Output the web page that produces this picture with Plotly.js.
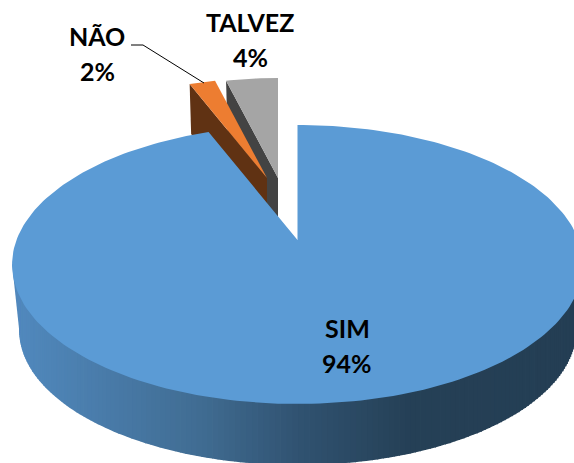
<!DOCTYPE html>
<html>
<head>
<meta charset="utf-8">
<script src="https://cdn.plot.ly/plotly-3.0.1.min.js"></script>
<style>html,body{margin:0;padding:0;background:#fff}</style>
</head>
<body>
<div id="chart" style="width:574px;height:463px"></div>
<script>
const categories = ['SIM', 'NÃO', 'TALVEZ'];
const values = [94, 2, 4];
const topColors = ['#5B9BD5', '#ED7D31', '#A5A5A5'];
const sideColors = ['#4A7FAF', '#603213', '#434343'];
const labelX = [347, 97, 250];
const labelY = [328, 36, 22];
const labelGap = 34.5;
const leaderX = [131, 143, 204];
const leaderY = [45, 45, 83];
const gradientStops = [[15, [81, 137, 190]], [200, [64, 108, 146]], [300, [48, 82, 112]], [410, [37, 64, 86]], [574, [36, 62, 84]]];

// Tilted-disc projection of the pie plane
const cx = 297.5, cy = 240, k = 0.1756, a = 281, b = 135.2;
const depthScaleX = 0.975, depthScaleY = 0.965, depthOffset = 66.8;
const explodeScale = 0.87;
const sliceTips = [[cx, cy], [267, 178], [278, 178]];
const sliceDepth = [0, 50, 50];

const total = values.reduce((s, v) => s + v, 0);
let acc = 0;
const bounds = values.map(v => { const s = acc; acc += v / total * 360; return [s, acc]; });

function proj(deg) {
  const t = deg * Math.PI / 180, u = Math.sin(t), v = Math.cos(t), w = 1 + k * v;
  return [a * u / w, -b * v / w];
}
function arc(s, e, n) {
  const out = [];
  for (let i = 0; i <= n; i++) out.push(s + (e - s) * i / n);
  return out;
}
function poly(pts, color) {
  return {
    type: 'scatter', mode: 'lines', x: pts.map(p => p[0]), y: pts.map(p => p[1]),
    fill: 'toself', fillcolor: color, line: { color: color, width: 0 },
    hoverinfo: 'skip', showlegend: false
  };
}
function gradient(x) {
  for (let i = 1; i < gradientStops.length; i++) {
    const [x0, c0] = gradientStops[i - 1], [x1, c1] = gradientStops[i];
    if (x <= x1) {
      const f = Math.max(0, (x - x0) / (x1 - x0));
      return 'rgb(' + c0.map((c, j) => Math.round(c + (c1[j] - c) * f)).join(',') + ')';
    }
  }
  return 'rgb(36,62,84)';
}

const traces = [];

// Exploded small slices: TALVEZ then NÃO, side face below top face
[2, 1].forEach(i => {
  const [tx, ty] = sliceTips[i];
  const [s, e] = bounds[i];
  const top = arc(s, e, 12).map(d => { const p = proj(d); return [tx + explodeScale * p[0], ty + explodeScale * p[1]]; });
  const first = top[0];
  traces.push(poly([[tx, ty], first, [first[0] + 1.5, first[1] + sliceDepth[i]], [tx, ty + sliceDepth[i]]], sideColors[i]));
  traces.push(poly([[tx, ty]].concat(top), topColors[i]));
});

// Large slice: rim as vertical gradient strips, then the top face
const upper = d => { const p = proj(d); return [cx + p[0], cy + p[1]]; };
const lower = d => { const p = proj(d); return [cx + p[0] * depthScaleX, cy + p[1] * depthScaleY + depthOffset]; };
const rimFrom = 85, rimTo = 260;
const rim = arc(rimFrom, rimTo, 175);
const rimTop = cy + 24;
for (let i = 0; i < rim.length - 1; i++) {
  const l0 = lower(rim[i]), l1 = lower(rim[i + 1]);
  const over = 0.8;
  traces.push(poly([[l0[0] + over, rimTop], [l0[0] + over, l0[1]], l0, l1, [l1[0], rimTop]], gradient((l0[0] + l1[0]) / 2)));
}
const ul = upper(rimTo), ll = lower(rimTo);
traces.push(poly([ul, ll, [ll[0] + 0.8, ll[1]], [ll[0] + 0.8, rimTop], [ll[0], rimTop]], gradient(ll[0])));
const [s0, e0] = bounds[0];
traces.push(poly([[cx, cy]].concat(arc(s0, e0, 240).map(upper)), topColors[0]));

// Leader line for NÃO
traces.push({
  type: 'scatter', mode: 'lines', x: leaderX, y: leaderY,
  line: { color: '#000', width: 1 }, hoverinfo: 'skip', showlegend: false
});

const annotations = [];
categories.forEach((c, i) => {
  const font = { family: 'Lato, Carlito, sans-serif', size: 25, color: '#000', weight: 700 };
  annotations.push({ x: labelX[i], y: labelY[i], xref: 'x', yref: 'y', text: '<b>' + c + '</b>', showarrow: false, font: font });
  annotations.push({ x: labelX[i], y: labelY[i] + labelGap, xref: 'x', yref: 'y', text: '<b>' + values[i] + '%</b>', showarrow: false, font: font });
});

Plotly.newPlot('chart', traces, {
  width: 574, height: 463,
  margin: { l: 0, r: 0, t: 0, b: 0 },
  paper_bgcolor: '#fff', plot_bgcolor: '#fff',
  showlegend: false,
  xaxis: { range: [0, 574], visible: false, fixedrange: true },
  yaxis: { range: [463, 0], visible: false, fixedrange: true },
  annotations: annotations
}, { displayModeBar: false, staticPlot: true });
</script>
</body>
</html>
